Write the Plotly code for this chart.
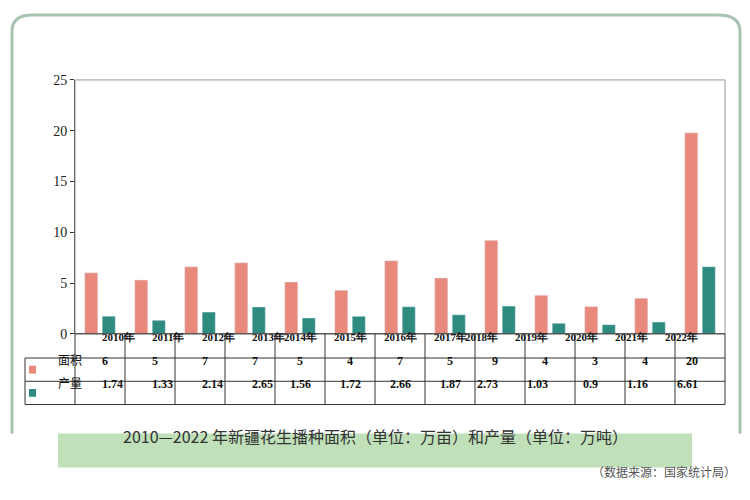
import plotly.graph_objects as go

years = ["2010年", "2011年", "2012年", "2013年", "2014年", "2015年", "2016年",
         "2017年", "2018年", "2019年", "2020年", "2021年", "2022年"]
area = [6.0, 5.3, 6.6, 7.0, 5.1, 4.3, 7.2, 5.5, 9.2, 3.8, 2.7, 3.5, 19.8]
area_labels = ["6", "5", "7", "7", "5", "4", "7", "5", "9", "4", "3", "4", "20"]
output = [1.74, 1.33, 2.14, 2.65, 1.56, 1.72, 2.66, 1.87, 2.73, 1.03, 0.9, 1.16, 6.61]
output_labels = ["1.74", "1.33", "2.14", "2.65", "1.56", "1.72", "2.66", "1.87", "2.73",
                 "1.03", "0.9", "1.16", "6.61"]

# page body has an 8px margin, so draw in a 734x484 figure
W, H = 734, 484
def px(x): return (x - 8) / W
def py(y): return 1 - (y - 8) / H

c_area = "#e8897c"
c_out = "#2e8b80"
serif = "Liberation Serif"
cjk = "Noto Sans CJK SC"

fig = go.Figure()
fig.add_trace(go.Bar(x=years, y=area, marker_color=c_area, name="面积"))
fig.add_trace(go.Bar(x=years, y=output, marker_color=c_out, name="产量"))

x0, x1 = 75, 725
ytop, ybot = 75, 337
fig.update_layout(
    width=W, height=H, margin=dict(l=0, r=0, t=0, b=0),
    paper_bgcolor="white", plot_bgcolor="white", showlegend=False,
    bargap=0.3, bargroupgap=0.25,
    xaxis=dict(domain=[px(x0), px(x1)], showticklabels=False, ticks="",
               showline=False),
    yaxis=dict(domain=[py(ybot), py(ytop)], range=[0, 25], dtick=5, showgrid=False,
               ticks="outside", ticklen=4, tickcolor="#333", showline=True,
               linecolor="#333", tickfont=dict(family=serif, size=14, color="#222"),
               zeroline=False),
)

shapes = []
shapes.append(dict(type="path", xref="paper", yref="paper",
                   path=f"M {px(12)},{py(440)} L {px(12)},{py(25)} Q {px(12)},{py(8)} {px(32)},{py(8)} "
                        f"L {px(718)},{py(8)} Q {px(740)},{py(8)} {px(740)},{py(25)} L {px(740)},{py(440)}",
                   line=dict(color="#a9c3b3", width=3)))
shapes.append(dict(type="rect", xref="paper", yref="paper", x0=px(x0), x1=px(x1),
                   y0=py(ybot), y1=py(ytop), line=dict(color="#999", width=1)))
for r in [337, 362, 386, 410]:
    shapes.append(dict(type="line", xref="paper", yref="paper", x0=px(x0 if r == 337 else 25),
                       x1=px(x1), y0=py(r), y1=py(r), line=dict(color="#333", width=1)))
n = len(years)
for i in range(n + 1):
    xx = x0 + (x1 - x0) * i / n
    shapes.append(dict(type="line", xref="paper", yref="paper", x0=px(xx), x1=px(xx),
                       y0=py(337), y1=py(410), line=dict(color="#333", width=1)))
shapes.append(dict(type="line", xref="paper", yref="paper", x0=px(25), x1=px(25),
                   y0=py(362), y1=py(410), line=dict(color="#333", width=1)))
for yy, c in [(374, c_area), (398, c_out)]:
    shapes.append(dict(type="rect", xref="paper", yref="paper", x0=px(29), x1=px(36),
                       y0=py(yy + 4), y1=py(yy - 4), fillcolor=c, line=dict(width=0)))
shapes.append(dict(type="rect", xref="paper", yref="paper", x0=px(58), x1=px(692),
                   y0=py(475), y1=py(440), fillcolor="#bfe0b9", line=dict(width=0)))
fig.update_layout(shapes=shapes)

ann = []
for i in range(n):
    xc = px(x0 + (x1 - x0) * (i + 0.5) / n)
    for yy, t, s in [(349, years[i], 11), (374, area_labels[i], 12), (398, output_labels[i], 12)]:
        ann.append(dict(x=xc, y=py(yy), xref="paper", yref="paper", text=f"<b>{t}</b>",
                        showarrow=False, font=dict(family=serif, size=s, color="#111")))
for yy, t in [(374, "面积"), (398, "产量")]:
    ann.append(dict(x=px(56), y=py(yy), xref="paper", yref="paper", text=t, showarrow=False,
                    font=dict(family=cjk, size=12, color="#111")))
ann.append(dict(x=px(375), y=py(457), xref="paper", yref="paper", showarrow=False,
                text="2010—2022 年新疆花生播种面积（单位：万亩）和产量（单位：万吨）",
                font=dict(family=cjk, size=16, color="#333")))
ann.append(dict(x=px(738), y=py(490), xref="paper", yref="paper", showarrow=False,
                xanchor="right", text="（数据来源：国家统计局）",
                font=dict(family=cjk, size=12, color="#555")))
fig.update_layout(annotations=ann)

fig.write_html("out.html")
